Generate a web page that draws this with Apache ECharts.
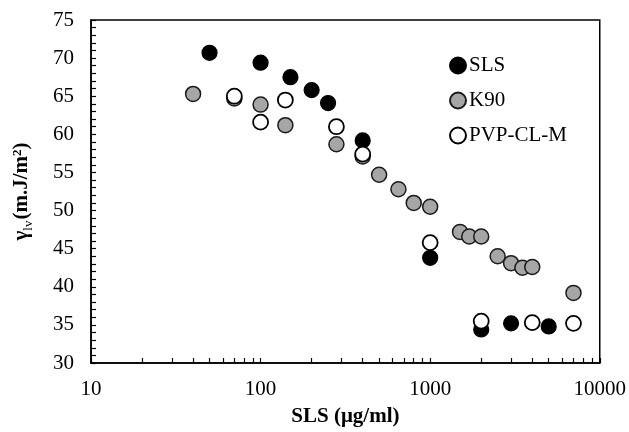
<!DOCTYPE html>
<html>
<head>
<meta charset="utf-8">
<script src="https://cdn.jsdelivr.net/npm/echarts@6/dist/echarts.min.js"></script>
<style>html,body{margin:0;padding:0;background:#fff;}#c{width:629px;height:432px;}</style>
</head>
<body>
<div id="c"></div>
<script>
var slsX = [50, 100, 150, 200, 250, 400, 1000, 2000, 3000, 5000];
var slsY = [70.7, 69.4, 67.5, 65.8, 64.1, 59.2, 43.8, 34.4, 35.2, 34.8];

var k90X = [40, 70, 100, 140, 280, 400, 500, 650, 800, 1000, 1500, 1700, 2000, 2500, 3000, 3500, 4000, 7000];
var k90Y = [65.3, 64.7, 63.9, 61.2, 58.7, 57.1, 54.7, 52.8, 51.0, 50.5, 47.2, 46.6, 46.6, 44.0, 43.1, 42.5, 42.6, 39.2];

var pvpX = [70, 100, 140, 280, 400, 1000, 2000, 4000, 7000];
var pvpY = [65.0, 61.6, 64.5, 61.0, 57.4, 45.8, 35.5, 35.3, 35.2];

var xTicks = [10, 20, 30, 40, 50, 60, 70, 80, 90, 100, 200, 300, 400, 500, 600, 700, 800, 900, 1000, 2000, 3000, 4000, 5000, 6000, 7000, 8000, 9000, 10000];
var xLabels = [10, 100, 1000, 10000];
var yTicks = [];
for (var t = 30; t <= 75; t++) yTicks.push(t);

function pairs(xs, ys) { return xs.map(function (x, i) { return [x, ys[i]]; }); }

var font = 'Liberation Serif';
var chart = echarts.init(document.getElementById('c'));
chart.setOption({
  animation: false,
  grid: { left: 91, right: 28, top: 20, bottom: 67, show: true, borderColor: '#000', borderWidth: 1.5, backgroundColor: 'transparent' },
  legend: {
    orient: 'vertical', left: 444, top: 50, itemWidth: 16, itemHeight: 16, itemGap: 14,
    textStyle: { fontFamily: font, fontSize: 21, color: '#000', padding: [0, 0, 0, -2] },
    data: ['SLS', 'K90', 'PVP-CL-M']
  },
  xAxis: {
    type: 'log', logBase: 10, min: 10, max: 10000,
    name: 'SLS (μg/ml)', nameLocation: 'middle', nameGap: 43,
    nameTextStyle: { fontFamily: font, fontSize: 21, fontWeight: 'bold', color: '#000' },
    axisLine: { show: true, lineStyle: { color: '#000', width: 1.5 } },
    axisTick: { show: true, inside: true, length: 5, lineStyle: { color: '#000', width: 1.2 }, customValues: xTicks },
    axisLabel: { show: true, fontFamily: font, fontSize: 21, color: '#000', margin: 16, customValues: xLabels,
      formatter: function (v) { return String(Math.round(v)); } },
    splitLine: { show: false }
  },
  yAxis: {
    type: 'value', min: 30, max: 75, interval: 5,
    name: '{a|γ}{s|lv}{a|(m.J/m}{p|2}{a|)}', nameLocation: 'middle', nameGap: 56, nameRotate: 90,
    nameTextStyle: {
      fontFamily: font, fontSize: 21, fontWeight: 'bold', color: '#000',
      rich: {
        a: { fontFamily: font, fontSize: 21, fontWeight: 'bold', color: '#000', lineHeight: 26, verticalAlign: 'middle' },
        s: { fontFamily: font, fontSize: 13, fontWeight: 'normal', color: '#000', lineHeight: 26, verticalAlign: 'bottom', padding: [0, 1, 0, 0] },
        p: { fontFamily: font, fontSize: 13, fontWeight: 'bold', color: '#000', lineHeight: 26, verticalAlign: 'top', padding: [2, 0, 0, 0] }
      }
    },
    axisLine: { show: true, lineStyle: { color: '#000', width: 1.5 } },
    axisTick: { show: true, inside: true, length: 5, lineStyle: { color: '#000', width: 1.2 }, customValues: yTicks },
    axisLabel: { show: true, fontFamily: font, fontSize: 21, color: '#000', margin: 17 },
    splitLine: { show: false }
  },
  series: [
    { name: 'SLS', type: 'scatter', symbol: 'circle', symbolSize: 15, data: pairs(slsX, slsY),
      itemStyle: { color: '#000', borderColor: '#000', borderWidth: 1.2, opacity: 1 }, z: 2 },
    { name: 'K90', type: 'scatter', symbol: 'circle', symbolSize: 15, data: pairs(k90X, k90Y),
      itemStyle: { color: '#a6a6a6', borderColor: '#1a1a1a', borderWidth: 1.5, opacity: 1 }, z: 3 },
    { name: 'PVP-CL-M', type: 'scatter', symbol: 'circle', symbolSize: 15, data: pairs(pvpX, pvpY),
      itemStyle: { color: '#fff', borderColor: '#000', borderWidth: 1.8, opacity: 1 }, z: 4 }
  ]
});
</script>
</body>
</html>
